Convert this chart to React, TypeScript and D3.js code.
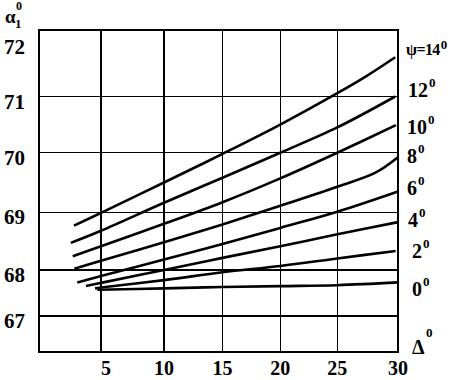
import React from 'react';
import * as d3 from 'd3';

// Axis ticks
const deltaTicks = [5, 10, 15, 20, 25, 30];
const alphaTicks = [67, 68, 69, 70, 71, 72];
const alphaGrid = [67, 68, 69, 70, 71];
const deltaGrid = [5, 10, 15, 20, 25];

// Series: one curve per psi (degrees)
const psiValues = [14, 12, 10, 8, 6, 4, 2, 0];

const delta14 = [2.82, 5, 10, 15, 20, 25, 27.3, 29.77];
const alpha14 = [68.77, 68.99, 69.5, 69.98, 70.5, 71.06, 71.36, 71.72];
const delta12 = [2.56, 5, 10, 15, 20, 25, 29.77];
const alpha12 = [68.47, 68.68, 69.16, 69.58, 70.0, 70.45, 71.0];
const delta10 = [2.72, 5, 10, 15, 20, 25, 29.83];
const alpha10 = [68.24, 68.41, 68.8, 69.17, 69.57, 70.0, 70.49];
const delta8 = [2.85, 5, 10, 15, 20, 25, 28.1, 29.97];
const alpha8 = [68.02, 68.16, 68.48, 68.79, 69.11, 69.43, 69.66, 69.92];
const delta6 = [3.09, 5, 10, 15, 20, 25, 30];
const alpha6 = [67.73, 67.87, 68.18, 68.45, 68.73, 69.01, 69.35];
const delta4 = [3.79, 5, 10, 15, 20, 25, 30];
const alpha4 = [67.65, 67.72, 68.0, 68.21, 68.41, 68.62, 68.83];
const delta2 = [4.52, 5, 10, 15, 20, 25, 29.8];
const alpha2 = [67.6, 67.62, 67.78, 67.95, 68.07, 68.2, 68.33];
const delta0 = [4.7, 10, 15, 20, 25, 30];
const alpha0 = [67.57, 67.6, 67.63, 67.65, 67.67, 67.73];

const seriesDelta = [delta14, delta12, delta10, delta8, delta6, delta4, delta2, delta0];
const seriesAlpha = [alpha14, alpha12, alpha10, alpha8, alpha6, alpha4, alpha2, alpha0];

// Layout
const W = 450;
const H = 380;
const left = 39;
const right = 398;
const top = 30;
const bottom = 352;
const labelBaselines = [55, 97, 134, 163, 195, 227, 258, 296];
const labelX = [406, 408, 407, 407, 407, 408, 412, 412];

const FONT = '"Liberation Serif", "Times New Roman", serif';

export default function App() {
  const x = d3.scaleLinear().domain([0, 5, 10, 15, 20, 25, 30]).range([left, 101, 164, 222.5, 280.3, 337.3, right]);
  const y = d3.scaleLinear().domain([67, 68, 69, 70, 71, 72]).range([316, 270, 212.3, 152.7, 96.5, 42]);

  const line = d3
    .line<[number, number]>()
    .x((d) => x(d[0]))
    .y((d) => y(d[1]))
    .curve(d3.curveCatmullRom.alpha(0.5));

  return (
    <svg
      width={W}
      height={H}
      viewBox={`0 0 ${W} ${H}`}
      style={{ position: 'absolute', left: 0, top: 0, background: '#fff' }}
      fontFamily={FONT}
      fontWeight="bold"
    >
      <rect x={0} y={0} width={W} height={H} fill="#fff" />
      {/* grid */}
      <g stroke="#000" strokeWidth={1.3} shapeRendering="crispEdges">
        {deltaGrid.map((d) => (
          <line key={'v' + d} x1={x(d)} x2={x(d)} y1={top} y2={bottom} />
        ))}
        {alphaGrid.map((a) => (
          <line key={'h' + a} x1={left} x2={right} y1={y(a)} y2={y(a)} />
        ))}
        <rect x={left} y={top} width={right - left} height={bottom - top} fill="none" strokeWidth={1.5} />
      </g>
      {/* curves */}
      <g fill="none" stroke="#000" strokeWidth={2.6} strokeLinecap="butt">
        {seriesDelta.map((ds, i) => (
          <path key={'c' + i} d={line(ds.map((d, j) => [d, seriesAlpha[i][j]]) as [number, number][]) || ''} />
        ))}
      </g>
      {/* x tick labels */}
      <g fontSize={20} textAnchor="middle" fill="#000">
        {deltaTicks.map((d) => (
          <text key={'xt' + d} x={x(d) + (d === 5 ? 5 : 0)} y={375}>
            {d}
          </text>
        ))}
      </g>
      {/* y tick labels */}
      <g fontSize={21} textAnchor="end" fill="#000">
        {alphaTicks.map((a) => (
          <text key={'yt' + a} x={25} y={y(a) + 12}>
            {a}
          </text>
        ))}
      </g>
      {/* y axis title */}
      <g fill="#000">
        <text x={5} y={23} fontSize={19}>α</text>
        <text x={15} y={28} fontSize={13}>1</text>
        <text x={16} y={10} fontSize={12}>0</text>
      </g>
      {/* x axis title */}
      <g fill="#000">
        <text x={412} y={354} fontSize={20}>Δ</text>
        <text x={426} y={337} fontSize={13}>0</text>
      </g>
      {/* curve labels */}
      <g fill="#000">
        {psiValues.map((p, i) =>
          i === 0 ? (
            <text key={'l' + p} x={labelX[i]} y={labelBaselines[i]} fontSize={16} letterSpacing={-0.6}>
              {'ψ=' + p}
              <tspan dx={1} dy={-6} fontSize={13}>0</tspan>
            </text>
          ) : (
            <text key={'l' + p} x={labelX[i]} y={labelBaselines[i]} fontSize={20}>
              {String(p)}
              <tspan dx={1} dy={-10} fontSize={13}>0</tspan>
            </text>
          )
        )}
      </g>
    </svg>
  );
}
